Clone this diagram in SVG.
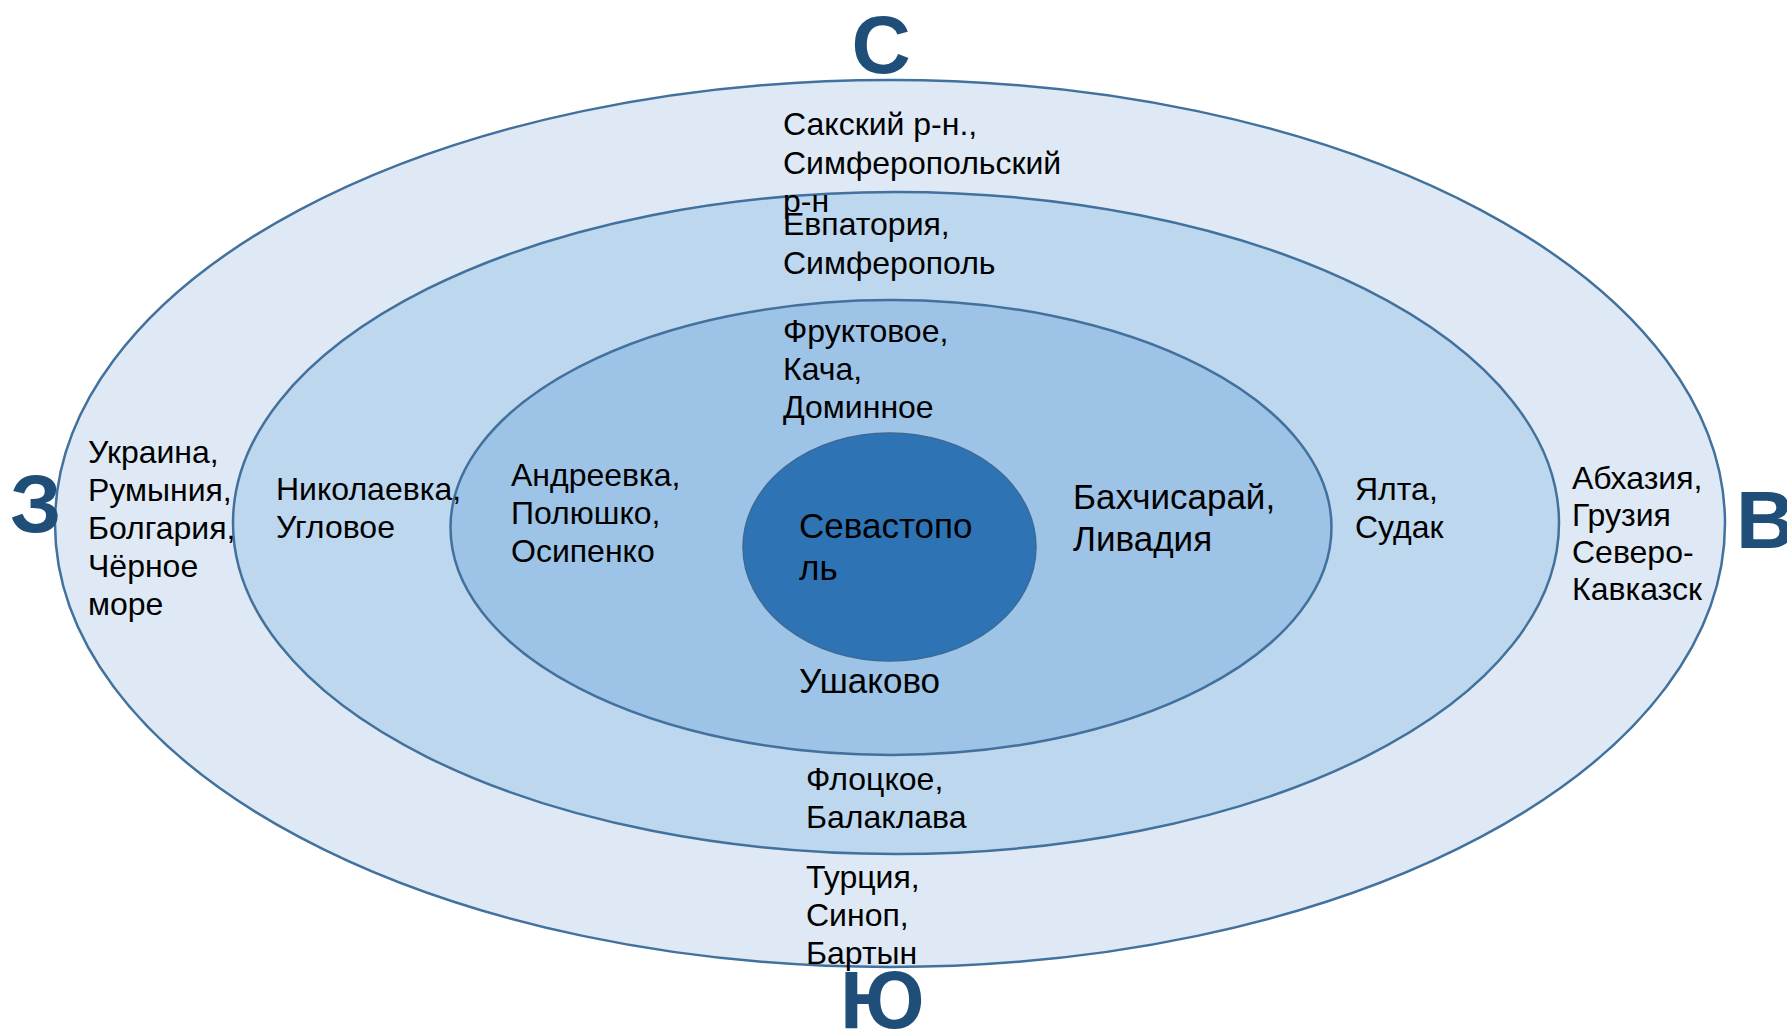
<svg xmlns="http://www.w3.org/2000/svg" width="1787" height="1031" viewBox="0 0 1787 1031">
<style>
.ring{stroke:#41719C;stroke-width:2.5}
.t{font-family:"Liberation Sans",Arial,sans-serif;font-size:32px;fill:#000}
.tl{font-family:"Liberation Sans",Arial,sans-serif;font-size:35px;fill:#000}
.dir{font-family:"Liberation Sans",Arial,sans-serif;font-weight:bold;font-size:82px;fill:#1F4E79}
</style>
<rect width="1787" height="1031" fill="#fff"/>
<g id="ring-outer"><ellipse class="ring" cx="890" cy="523.5" rx="835" ry="443.5" fill="#DEE9F5"/></g>
<g id="ring-2"><ellipse class="ring" cx="896" cy="523" rx="663" ry="331" fill="#BDD7EE"/></g>
<g id="ring-3"><ellipse class="ring" cx="891" cy="527.5" rx="440.5" ry="227.5" fill="#9DC3E6"/></g>
<g id="core"><ellipse cx="889.5" cy="547" rx="146.5" ry="114" fill="#2E74B5" stroke="#3A6A98" stroke-width="1.5"/></g>
<g id="connectors"/>
<g id="labels-north">
<text class="t" x="783" y="135">Сакский р-н.,</text>
<text class="t" x="783" y="174">Симферопольский</text>
<text class="t" x="783" y="212">р-н</text>
<text class="t" x="783" y="235">Евпатория,</text>
<text class="t" x="783" y="274">Симферополь</text>
<text class="t" x="783" y="342">Фруктовое,</text>
<text class="t" x="783" y="380">Кача,</text>
<text class="t" x="783" y="418">Доминное</text>
</g>
<g id="labels-west">
<text class="t" x="88" y="463">Украина,</text>
<text class="t" x="88" y="501">Румыния,</text>
<text class="t" x="88" y="539">Болгария,</text>
<text class="t" x="88" y="577">Чёрное</text>
<text class="t" x="88" y="615">море</text>
<text class="t" x="276" y="500">Николаевка,</text>
<text class="t" x="276" y="538">Угловое</text>
<text class="t" x="511" y="486">Андреевка,</text>
<text class="t" x="511" y="524">Полюшко,</text>
<text class="t" x="511" y="562">Осипенко</text>
</g>
<g id="labels-center">
<text class="tl" x="799" y="538">Севастопо</text>
<text class="tl" x="799" y="580">ль</text>
<text class="tl" x="799" y="693">Ушаково</text>
<text class="tl" x="1073" y="509">Бахчисарай,</text>
<text class="tl" x="1073" y="551">Ливадия</text>
</g>
<g id="labels-east">
<text class="t" x="1355" y="500">Ялта,</text>
<text class="t" x="1355" y="538">Судак</text>
<text class="t" x="1572" y="489">Абхазия,</text>
<text class="t" x="1572" y="526">Грузия</text>
<text class="t" x="1572" y="563">Северо-</text>
<text class="t" x="1572" y="600">Кавказск</text>
</g>
<g id="labels-south">
<text class="t" x="806" y="790">Флоцкое,</text>
<text class="t" x="806" y="828">Балаклава</text>
<text class="t" x="806" y="888">Турция,</text>
<text class="t" x="806" y="926">Синоп,</text>
<text class="t" x="806" y="964">Бартын</text>
</g>
<g id="directions">
<text class="dir" x="881" y="73" text-anchor="middle">С</text>
<text class="dir" x="10" y="532">З</text>
<text class="dir" x="1736" y="548">В</text>
<text class="dir" x="840" y="1028">Ю</text>
</g>
</svg>
